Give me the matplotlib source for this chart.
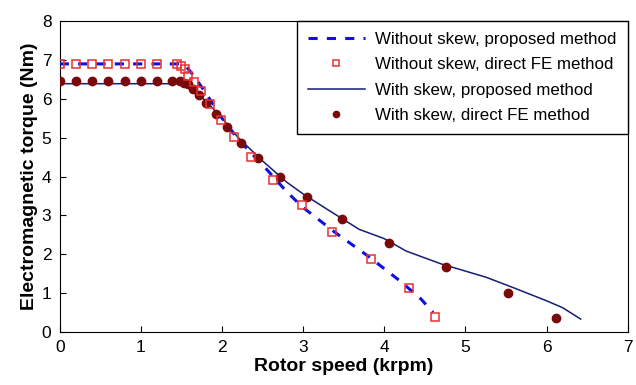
import numpy as np
import matplotlib; matplotlib.use("Agg")
import matplotlib.pyplot as plt

plt.rcParams.update({"font.family": ["Liberation Sans", "DejaVu Sans"], "font.size": 11})

# Without skew, proposed method (dashed)
ns_prop_x = [0, 1.5, 1.55, 1.65, 1.8, 2.0, 2.2, 2.5, 2.8, 3.0, 3.4, 3.8, 4.2, 4.45, 4.6]
ns_prop_y = [6.9, 6.9, 6.85, 6.6, 6.15, 5.5, 4.95, 4.3, 3.6, 3.2, 2.55, 1.95, 1.3, 0.85, 0.5]
# Without skew, direct FE (squares)
ns_fe_x = [0, 0.2, 0.4, 0.6, 0.8, 1.0, 1.2, 1.45, 1.5, 1.54, 1.58, 1.65, 1.74, 1.85, 1.99,
           2.15, 2.36, 2.63, 2.99, 3.36, 3.84, 4.3, 4.62]
ns_fe_y = [6.9, 6.9, 6.9, 6.9, 6.9, 6.9, 6.9, 6.9, 6.85, 6.78, 6.6, 6.43, 6.2, 5.87, 5.46,
           5.03, 4.49, 3.9, 3.26, 2.56, 1.87, 1.13, 0.38]
# With skew, proposed method (solid)
sk_prop_x = [0, 1.45, 1.6, 1.8, 2.0, 2.2, 2.5, 2.8, 3.0, 3.3, 3.69, 4.0, 4.27, 4.7, 5.25, 5.6, 6.0, 6.2, 6.42]
sk_prop_y = [6.39, 6.39, 6.3, 5.95, 5.5, 5.0, 4.4, 3.85, 3.55, 3.15, 2.64, 2.4, 2.08, 1.75, 1.41, 1.13, 0.8, 0.62, 0.33]
# With skew, direct FE (circles)
sk_fe_x = [0, 0.2, 0.4, 0.6, 0.8, 1.0, 1.2, 1.38, 1.48, 1.53, 1.58, 1.64, 1.72, 1.8, 1.92,
           2.06, 2.23, 2.44, 2.71, 3.05, 3.48, 4.06, 4.76, 5.53, 6.11]
sk_fe_y = [6.46, 6.46, 6.46, 6.46, 6.46, 6.46, 6.46, 6.46, 6.45, 6.41, 6.38, 6.26, 6.1, 5.9, 5.62,
           5.28, 4.87, 4.48, 3.98, 3.46, 2.9, 2.28, 1.67, 1.0, 0.36]

fig = plt.figure(figsize=(6.36, 3.85), dpi=100)
ax = fig.add_axes([0.094, 0.138, 0.893, 0.807])

ax.plot(ns_prop_x, ns_prop_y, color="#1010e0", lw=2.2, ls=(0, (3, 3)),
        label="Without skew, proposed method", zorder=3)
ax.plot(ns_fe_x, ns_fe_y, ls="none", marker="s", ms=6, mfc="none", mec="#e8302f", mew=1.1,
        label="Without skew, direct FE method", zorder=4)
ax.plot(sk_prop_x, sk_prop_y, color="#141e78", lw=1.1,
        label="With skew, proposed method", zorder=2)
ax.plot(sk_fe_x, sk_fe_y, ls="none", marker="o", ms=6, color="#7a0a0a",
        label="With skew, direct FE method", zorder=3)

ax.set_xlim(0, 7); ax.set_ylim(0, 8)
ax.set_xticks(range(8)); ax.set_yticks(range(9))
ax.tick_params(direction="in", length=4, labelsize=12.5, pad=6)
ax.set_xlabel("Rotor speed (krpm)", fontweight="bold", fontsize=14, labelpad=2)
ax.set_ylabel("Electromagnetic torque (Nm)", fontweight="bold", fontsize=14, labelpad=3)

leg = ax.legend(loc="upper right", borderaxespad=0, fontsize=12.2, fancybox=False,
                edgecolor="black", framealpha=1, handlelength=3.4, labelspacing=0.6,
                borderpad=0.65, markerscale=0.75, handletextpad=0.6)
leg.get_frame().set_linewidth(1.0)

fig.savefig("out.png", dpi=100)
